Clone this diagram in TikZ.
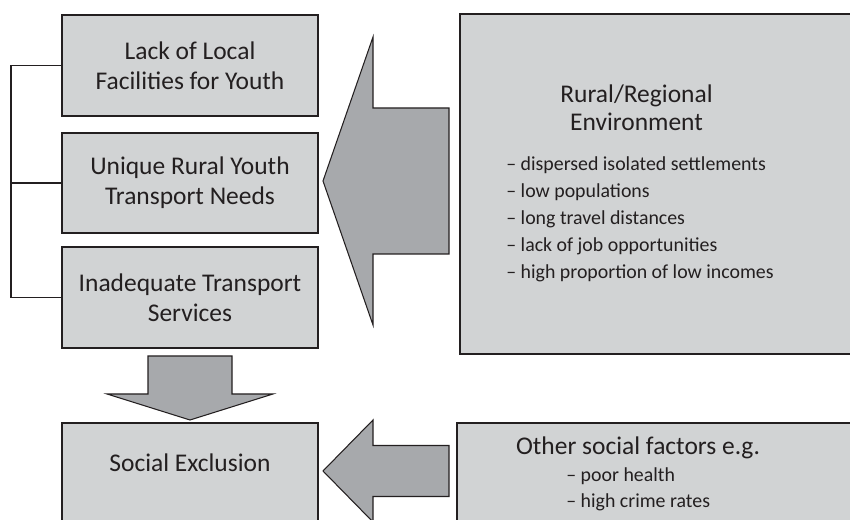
\documentclass[tikz,border=0pt]{standalone}
\usepackage{fontspec}
\setmainfont{Carlito}
\usetikzlibrary{positioning, calc}
\definecolor{boxgray}{RGB}{209,211,212}
\definecolor{arrowgray}{RGB}{167,169,172}
\definecolor{inkgray}{RGB}{35,31,32}
\tikzset{
    factorbox/.style={draw=inkgray, fill=boxgray, line width=0.7pt,
        minimum width=5.12cm, minimum height=2.02cm, align=center,
        text=inkgray, font=\fontsize{14.5pt}{17pt}\selectfont},
    bigtext/.style={text=inkgray, align=center, inner sep=0pt,
        font=\fontsize{14.5pt}{16pt}\selectfont},
    listtext/.style={text=inkgray, anchor=base west, inner sep=0pt,
        font=\fontsize{11.3pt}{15pt}\selectfont},
    blockarrow/.style={draw=inkgray, fill=arrowgray, line width=0.6pt}
}

\begin{document}
\begin{tikzpicture}
            \useasboundingbox (0, 0) rectangle (17, 10.4);
            \clip (0, 0) rectangle (17, 10.4);
            % three factor boxes on the left
            \node[factorbox] (facil) at (3.8, 9.09) {Lack of Local\\Facilities for Youth};
            \node[factorbox, minimum height=2cm] (needs) at (3.8, 6.74) {Unique Rural Youth\\Transport Needs};
            \node[factorbox] (serv) at (3.8, 4.45) {Inadequate Transport\\Services};
            % bracket joining them
            \coordinate (brk) at (0.22, 0);
            \draw[inkgray, line width=0.6pt] (facil.west) -- (facil.west -| brk) |- (serv.west);
            \draw[inkgray, line width=0.6pt] (needs.west) -- (needs.west -| brk);
            % social exclusion, cut off at the bottom
            \draw[draw=inkgray, fill=boxgray, line width=0.7pt] (1.24, 1.94) rectangle (6.36, -0.4);
            \node[bigtext, anchor=base] (excl) at (3.8, 0.96) {Social Exclusion};
            % down arrow
            \draw[blockarrow] (2.96, 3.28) -- (4.64, 3.28) -- (4.64, 2.52) -- (5.46, 2.52)
                -- (3.8, 2.0) -- (2.14, 2.52) -- (2.96, 2.52) -- cycle;
            % rural environment box
            \draw[draw=inkgray, fill=boxgray, line width=0.7pt] (9.2, 10.12) rectangle (17.4, 3.32);
            \node[bigtext] (rural) at (12.73, 8.25) {Rural/Regional\\Environment};
            \node[listtext] (env1) at (10.12, 6.98) {-- dispersed isolated settlements};
            \node[listtext] (env2) at (10.12, 6.44) {-- low populations};
            \node[listtext] (env3) at (10.12, 5.90) {-- long travel distances};
            \node[listtext] (env4) at (10.12, 5.36) {-- lack of job opportunities};
            \node[listtext] (env5) at (10.12, 4.82) {-- high proportion of low incomes};
            % big left arrow
            \draw[blockarrow] (6.46, 6.78) -- (7.46, 9.66) -- (7.46, 8.24) -- (8.98, 8.24)
                -- (8.98, 5.32) -- (7.46, 5.32) -- (7.46, 3.90) -- cycle;
            % other social factors box
            \draw[draw=inkgray, fill=boxgray, line width=0.7pt] (9.14, 1.94) rectangle (17.4, -0.4);
            \node[bigtext, anchor=base] (other) at (12.76, 1.3) {Other social factors e.g.};
            \node[listtext] (oth1) at (11.32, 0.76) {-- poor health};
            \node[listtext] (oth2) at (11.32, 0.24) {-- high crime rates};
            % lower left arrow
            \draw[blockarrow] (6.46, 0.98) -- (7.46, 2.0) -- (7.46, 1.49) -- (8.98, 1.49)
                -- (8.98, 0.47) -- (7.46, 0.47) -- (7.46, -0.04) -- cycle;
        \end{tikzpicture}
\end{document}
